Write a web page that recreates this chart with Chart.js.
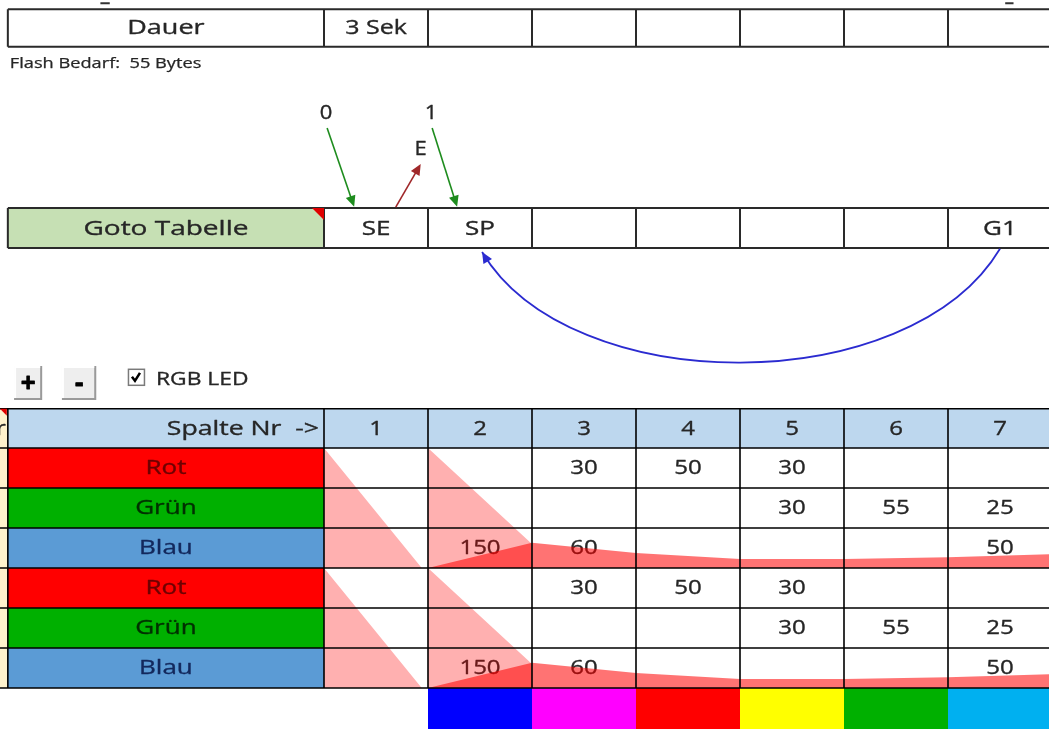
<!DOCTYPE html>
<html>
<head>
<meta charset="utf-8">
<title>Goto Tabelle</title>
<script src="https://cdn.jsdelivr.net/npm/chart.js@4.4.1/dist/chart.umd.min.js"></script>
<style>
  html, body { margin: 0; padding: 0; background: #fff; }
  #sheet { display: block; }
</style>
</head>
<body>
<canvas id="sheet" width="1049" height="729"></canvas>
<script>
// table content
const columnLabels = ["1", "2", "3", "4", "5", "6", "7"];
const channelNames = ["Rot", "Grün", "Blau"];
const rotValues = [null, null, 30, 50, 30, null, null];
const gruenValues = [null, null, null, null, 30, 55, 25];
const blauValues = [null, 150, 60, null, null, null, 50];
const dauerEntries = ["3 Sek", "", "", "", "", "", ""];
const gotoEntries = ["SE", "SP", "", "", "", "", "G1"];
const stripColors = [null, "#0000FF", "#FF00FF", "#FF0000", "#FFFF00", "#00B000", "#00B0F0"];

// overlay areas (x = column boundary, level = share of the 3-row block)
const fadeX = [0, 0.94, 1, 1, 2, 2];
const fadeLevel = [1, 0, 0, 1, 0.2, 0];
const blueX = [1, 2, 3, 4, 5, 6, 7];
const blueLevel = [0, 0.21, 0.125, 0.075, 0.075, 0.09, 0.115];

// sheet geometry in axis units (x: columns, y: rows of 40px)
const X_MIN = -324 / 104;
const X_MAX = (1049 - 324) / 104;
const Y_MAX = 729 / 40;
const LABEL_LEFT = -3.04;
const HEADER_TOP = 10.22;
const DATA_TOP = 11.2;
const BLOCK_BOTTOMS = [DATA_TOP + 3, DATA_TOP + 6];

const FONT = '"Open Sans", "DejaVu Sans", sans-serif';

function areaPoints(xs, levels, bottom) {
  return xs.map((x, i) => ({ x: x, y: bottom - levels[i] * 3 }));
}

function drawText(ctx, str, x, y, opts) {
  const o = Object.assign({ size: 20, color: "#262626", align: "center", stretch: 1.2, weight: "normal", thick: 0.35 }, opts || {});
  ctx.save();
  ctx.font = `${o.weight} ${o.size}px ${FONT}`;
  ctx.fillStyle = o.color;
  ctx.strokeStyle = o.color;
  ctx.lineWidth = o.thick;
  ctx.lineJoin = "round";
  ctx.textBaseline = "middle";
  ctx.textAlign = o.align;
  ctx.translate(x, y);
  ctx.scale(o.stretch, 1);
  ctx.fillText(str, 0, 0);
  if (o.thick > 0) ctx.strokeText(str, 0, 0);
  ctx.restore();
}

function arrow(ctx, x1, y1, x2, y2, color, width) {
  const ang = Math.atan2(y2 - y1, x2 - x1);
  const len = 11, half = 5;
  ctx.save();
  ctx.strokeStyle = color;
  ctx.fillStyle = color;
  ctx.lineWidth = width;
  ctx.beginPath();
  ctx.moveTo(x1, y1);
  ctx.lineTo(x2 - Math.cos(ang) * len * 0.8, y2 - Math.sin(ang) * len * 0.8);
  ctx.stroke();
  ctx.beginPath();
  ctx.moveTo(x2, y2);
  ctx.lineTo(x2 - Math.cos(ang) * len - Math.sin(ang) * half, y2 - Math.sin(ang) * len + Math.cos(ang) * half);
  ctx.lineTo(x2 - Math.cos(ang) * len + Math.sin(ang) * half, y2 - Math.sin(ang) * len - Math.cos(ang) * half);
  ctx.closePath();
  ctx.fill();
  ctx.restore();
}

function button(ctx, x1, y1, x2, y2, label) {
  ctx.save();
  ctx.fillStyle = "#EEEEEE";
  ctx.fillRect(x1, y1, x2 - x1, y2 - y1);
  ctx.strokeStyle = "#9A9A9A";
  ctx.lineWidth = 2;
  ctx.beginPath();
  ctx.moveTo(x2 - 1, y1);
  ctx.lineTo(x2 - 1, y2 - 1);
  ctx.lineTo(x1, y2 - 1);
  ctx.stroke();
  ctx.strokeStyle = "#FFFFFF";
  ctx.beginPath();
  ctx.moveTo(x1 + 1, y2 - 2);
  ctx.lineTo(x1 + 1, y1 + 1);
  ctx.lineTo(x2 - 2, y1 + 1);
  ctx.stroke();
  ctx.restore();
  drawText(ctx, label, (x1 + x2) / 2, (y1 + y2) / 2 + 2, { size: 26, weight: "bold", color: "#000", stretch: 1, thick: 0.8 });
}

const sheetBackground = {
  id: "sheetBackground",
  beforeDatasetsDraw(chart) {
    const ctx = chart.ctx;
    const X = (u) => chart.scales.x.getPixelForValue(u);
    const Y = (v) => chart.scales.y.getPixelForValue(v);
    const labelMid = (X(LABEL_LEFT) + X(0)) / 2;
    ctx.save();
    ctx.fillStyle = "#FFFFFF";
    ctx.fillRect(0, 0, chart.width, chart.height);

    // Dauer row
    drawText(ctx, "Dauer", labelMid, Y(0.7), { stretch: 1.35 });
    dauerEntries.forEach((t, i) => {
      if (t) drawText(ctx, t, X(i + 0.5), Y(0.7), { stretch: 1.25 });
    });
    drawText(ctx, "Flash Bedarf:  55 Bytes", X(LABEL_LEFT) + 2, Y(1.6), { size: 14, align: "left", stretch: 1.3, thick: 0.25 });

    // Goto row
    ctx.fillStyle = "#C6E0B4";
    ctx.fillRect(X(LABEL_LEFT), Y(5.2), X(0) - X(LABEL_LEFT), Y(6.2) - Y(5.2));
    drawText(ctx, "Goto Tabelle", labelMid, Y(5.72), { stretch: 1.4 });
    gotoEntries.forEach((t, i) => {
      if (t) drawText(ctx, t, X(i + 0.5), Y(5.72), { stretch: 1.3 });
    });

    // header row
    ctx.fillStyle = "#BDD7EE";
    ctx.fillRect(X(LABEL_LEFT), Y(HEADER_TOP), X(X_MAX) - X(LABEL_LEFT), Y(DATA_TOP) - Y(HEADER_TOP));
    ctx.fillStyle = "#FFF2CC";
    ctx.fillRect(X(X_MIN), Y(HEADER_TOP), X(LABEL_LEFT) - X(X_MIN), Y(DATA_TOP + 6) - Y(HEADER_TOP));
    drawText(ctx, "r", X(LABEL_LEFT) - 2, Y(HEADER_TOP + 0.52), { align: "right" });
    drawText(ctx, "Spalte Nr  ->", X(0) - 5, Y(HEADER_TOP + 0.52), { align: "right", stretch: 1.33 });
    columnLabels.forEach((t, i) => drawText(ctx, t, X(i + 0.5), Y(HEADER_TOP + 0.52)));

    // channel rows, two blocks
    const labelFill = ["#FF0000", "#00B000", "#5B9BD5"];
    const labelInk = ["#6E0000", "#003000", "#13285C"];
    const rows = [rotValues, gruenValues, blauValues];
    for (let b = 0; b < 2; b++) {
      for (let r = 0; r < 3; r++) {
        const top = DATA_TOP + b * 3 + r;
        ctx.fillStyle = labelFill[r];
        ctx.fillRect(X(LABEL_LEFT), Y(top), X(0) - X(LABEL_LEFT), Y(top + 1) - Y(top));
        drawText(ctx, channelNames[r], labelMid, Y(top + 0.5), { color: labelInk[r], stretch: 1.3 });
        rows[r].forEach((val, i) => {
          if (val !== null) drawText(ctx, String(val), X(i + 0.5), Y(top + 0.5));
        });
      }
    }

    // colour strip
    stripColors.forEach((c, i) => {
      if (!c) return;
      ctx.fillStyle = c;
      ctx.fillRect(X(i), Y(DATA_TOP + 6), X(i + 1) - X(i), Y(Y_MAX) - Y(DATA_TOP + 6));
    });
    ctx.restore();
  },
  afterDatasetsDraw(chart) {
    const ctx = chart.ctx;
    const X = (u) => chart.scales.x.getPixelForValue(u);
    const Y = (v) => chart.scales.y.getPixelForValue(v);
    ctx.save();

    // top tables
    ctx.strokeStyle = "#2A2A2A";
    ctx.lineWidth = 2;
    [[0.23, 1.17], [5.2, 6.2]].forEach(([t, btm]) => {
      ctx.beginPath();
      ctx.moveTo(X(LABEL_LEFT), Y(t));
      ctx.lineTo(X(X_MAX), Y(t));
      ctx.moveTo(X(LABEL_LEFT), Y(btm));
      ctx.lineTo(X(X_MAX), Y(btm));
      [LABEL_LEFT, 0, 1, 2, 3, 4, 5, 6].forEach((u) => {
        ctx.moveTo(X(u), Y(t));
        ctx.lineTo(X(u), Y(btm));
      });
      ctx.stroke();
    });

    // comment marker on Goto cell
    ctx.fillStyle = "#E00000";
    ctx.beginPath();
    ctx.moveTo(X(0) - 12, Y(5.2));
    ctx.lineTo(X(0), Y(5.2));
    ctx.lineTo(X(0), Y(5.2) + 12);
    ctx.closePath();
    ctx.fill();

    // lower table grid
    ctx.strokeStyle = "#000";
    ctx.lineWidth = 1.6;
    ctx.beginPath();
    for (let k = 0; k <= 7; k++) {
      const v = k === 0 ? HEADER_TOP : DATA_TOP + k - 1;
      ctx.moveTo(X(X_MIN), Y(v));
      ctx.lineTo(X(X_MAX), Y(v));
    }
    [LABEL_LEFT, 0, 1, 2, 3, 4, 5, 6].forEach((u) => {
      ctx.moveTo(X(u), Y(HEADER_TOP));
      ctx.lineTo(X(u), Y(DATA_TOP + 6));
    });
    ctx.stroke();
    ctx.fillStyle = "#E00000";
    ctx.beginPath();
    ctx.moveTo(X(X_MIN), Y(HEADER_TOP));
    ctx.lineTo(X(LABEL_LEFT) - 1, Y(HEADER_TOP));
    ctx.lineTo(X(LABEL_LEFT) - 1, Y(HEADER_TOP) + 7);
    ctx.closePath();
    ctx.fill();

    // stray marks of the row above
    ctx.strokeStyle = "#333";
    ctx.lineWidth = 2;
    ctx.beginPath();
    ctx.moveTo(X(-2.15), Y(0.08));
    ctx.lineTo(X(-2.06), Y(0.08));
    ctx.moveTo(X(6.55), Y(0.08));
    ctx.lineTo(X(6.63), Y(0.08));
    ctx.stroke();

    // goto annotations
    drawText(ctx, "0", X(0.02), Y(2.83), { size: 20, stretch: 1.1 });
    drawText(ctx, "1", X(1.03), Y(2.83), { size: 20, stretch: 1.1 });
    drawText(ctx, "E", X(0.93), Y(3.72), { size: 20, stretch: 1.1 });
    arrow(ctx, X(0.03), Y(3.2), X(0.29), Y(5.17), "#1E8C1E", 1.6);
    arrow(ctx, X(1.04), Y(3.2), X(1.28), Y(5.17), "#1E8C1E", 1.6);
    arrow(ctx, X(0.69), Y(5.18), X(0.93), Y(4.1), "#A0282A", 1.6);

    // jump back G1 -> SP
    const sx = X(6.5), sy = Y(6.22), ex = X(1.52), ey = Y(6.3);
    const c1x = X(5.63), c1y = Y(10.0), c2x = X(2.37), c2y = Y(10.0);
    ctx.strokeStyle = "#2B2BD0";
    ctx.lineWidth = 1.8;
    ctx.beginPath();
    ctx.moveTo(sx, sy);
    ctx.bezierCurveTo(c1x, c1y, c2x, c2y, ex, ey);
    ctx.stroke();
    arrow(ctx, ex + (c2x - ex) * 0.04, ey + (c2y - ey) * 0.04, ex, ey, "#2B2BD0", 1.8);

    // +/- buttons and checkbox
    button(ctx, X(-2.98), Y(9.15), X(-2.71), Y(10.0), "+");
    button(ctx, X(-2.52), Y(9.15), X(-2.19), Y(10.0), "-");
    const bx = X(-1.885), by = Y(9.22), bs = 16;
    ctx.fillStyle = "#FFF";
    ctx.fillRect(bx, by, bs, bs);
    ctx.strokeStyle = "#7A7A7A";
    ctx.lineWidth = 1.5;
    ctx.strokeRect(bx + 0.5, by + 0.5, bs, bs);
    ctx.strokeStyle = "#000";
    ctx.lineWidth = 2.5;
    ctx.beginPath();
    ctx.moveTo(bx + 4, by + 8);
    ctx.lineTo(bx + 7, by + 12);
    ctx.lineTo(bx + 12, by + 4);
    ctx.stroke();
    drawText(ctx, "RGB LED", X(-1.615), Y(9.5), { size: 19, align: "left", stretch: 1.2 });
    ctx.restore();
  }
};

const datasets = [];
BLOCK_BOTTOMS.forEach((bottom) => {
  datasets.push({
    label: "Fade",
    data: areaPoints(fadeX, fadeLevel, bottom),
    backgroundColor: "rgba(255, 0, 0, 0.31)",
    borderWidth: 0,
    pointRadius: 0,
    fill: { value: bottom }
  });
  datasets.push({
    label: "Blau",
    data: areaPoints(blueX, blueLevel, bottom),
    backgroundColor: "rgba(255, 0, 0, 0.55)",
    borderWidth: 0,
    pointRadius: 0,
    fill: { value: bottom }
  });
});

new Chart(document.getElementById("sheet"), {
  type: "line",
  data: { datasets: datasets },
  options: {
    responsive: false,
    animation: false,
    devicePixelRatio: 1,
    layout: { padding: 0 },
    plugins: { legend: { display: false }, tooltip: { enabled: false } },
    scales: {
      x: { type: "linear", min: X_MIN, max: X_MAX, display: false },
      y: { type: "linear", min: 0, max: Y_MAX, reverse: true, display: false }
    }
  },
  plugins: [sheetBackground]
});
</script>
</body>
</html>
